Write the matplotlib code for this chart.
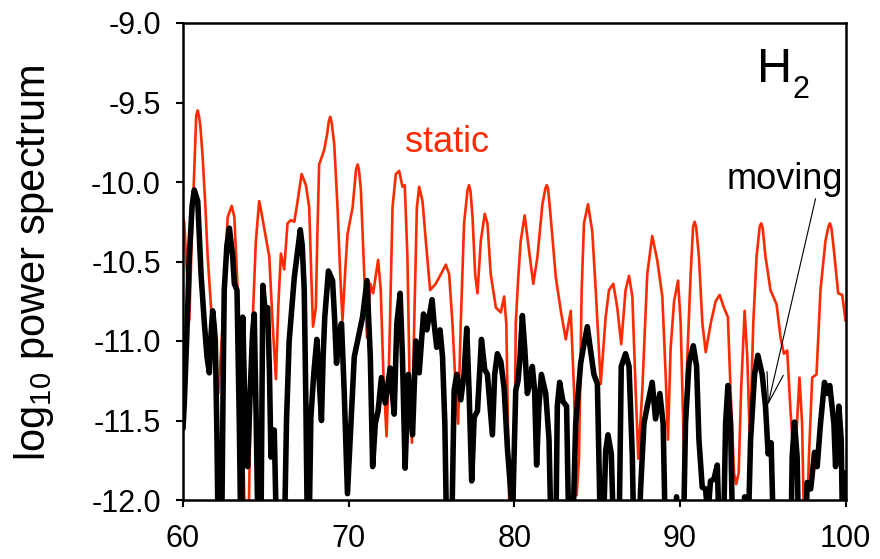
import matplotlib
matplotlib.use("Agg")
import matplotlib.pyplot as plt

plt.rcParams['font.family'] = ['Liberation Sans', 'DejaVu Sans']
plt.rcParams['mathtext.fontset'] = 'custom'
plt.rcParams['mathtext.rm'] = 'Liberation Sans'
plt.rcParams['mathtext.it'] = 'Liberation Sans:italic'

# static (red) spectrum: (frequency, log10 power)
static_pts = [
    (60.00, -10.22), (60.08, -10.26), (60.25, -10.60), (60.38, -10.87), (60.55, -10.30), (60.72, -9.80),
    (60.80, -9.58), (60.89, -9.55), (60.97, -9.59), (61.05, -9.65), (61.19, -9.85), (61.35, -10.15),
    (61.49, -10.47), (61.70, -10.80), (61.89, -11.06), (62.13, -11.33), (62.25, -11.15), (62.39, -10.89),
    (62.55, -10.50), (62.70, -10.22), (62.94, -10.15), (63.10, -10.22), (63.30, -10.68), (63.45, -11.10),
    (63.60, -11.52), (63.75, -12.20), (63.95, -12.20), (64.10, -11.30), (64.20, -10.89), (64.40, -10.37),
    (64.60, -10.12), (64.75, -10.20), (64.90, -10.29), (65.21, -10.47), (65.41, -10.89), (65.61, -11.24),
    (65.75, -10.79), (65.91, -10.45), (66.11, -10.55), (66.31, -10.26), (66.51, -10.24), (66.72, -10.25),
    (66.92, -10.12), (67.16, -9.95), (67.42, -10.02), (67.62, -10.16), (67.75, -10.60), (67.85, -10.91),
    (68.02, -10.79), (68.12, -10.30), (68.22, -9.89), (68.52, -9.80), (68.70, -9.70), (68.80, -9.62),
    (68.89, -9.59), (68.98, -9.63), (69.13, -9.76), (69.33, -10.16), (69.50, -10.60), (69.63, -10.87),
    (69.80, -10.55), (69.93, -10.33), (70.24, -10.16), (70.45, -9.92), (70.54, -9.89), (70.62, -9.92),
    (70.74, -10.05), (70.90, -10.47), (71.11, -10.98), (71.31, -10.64), (71.48, -10.70), (71.78, -10.49),
    (71.94, -10.68), (72.10, -11.21), (72.29, -11.60), (72.45, -11.10), (72.65, -10.16), (72.85, -9.95),
    (73.05, -9.93), (73.25, -10.03), (73.39, -10.02), (73.55, -10.47), (73.69, -11.31), (73.82, -11.64),
    (73.96, -10.89), (74.12, -10.16), (74.26, -10.03), (74.46, -10.12), (74.66, -10.37), (74.92, -10.68),
    (75.26, -10.64), (75.57, -10.58), (75.87, -10.52), (76.07, -10.58), (76.27, -10.89), (76.47, -11.31),
    (76.61, -11.52), (76.77, -10.89), (76.97, -10.26), (77.18, -10.05), (77.27, -10.02), (77.36, -10.06),
    (77.48, -10.22), (77.64, -10.58), (77.78, -10.70), (77.98, -10.37), (78.22, -10.20), (78.38, -10.26),
    (78.58, -10.58), (78.89, -10.79), (79.19, -10.82), (79.39, -10.72), (79.52, -10.89), (79.62, -11.52),
    (79.72, -12.20), (79.98, -12.20), (80.09, -10.89), (80.23, -10.62), (80.39, -10.37), (80.63, -10.21),
    (80.89, -10.43), (81.15, -10.64), (81.40, -10.47), (81.70, -10.14), (81.88, -10.04), (81.96, -10.02),
    (82.04, -10.04), (82.20, -10.22), (82.51, -10.60), (82.81, -10.81), (83.11, -10.99), (83.41, -10.81),
    (83.61, -11.31), (83.77, -11.97), (83.91, -11.73), (84.07, -10.68), (84.21, -10.26), (84.45, -10.14),
    (84.71, -10.31), (84.92, -10.68), (85.22, -11.27), (85.52, -10.85), (85.72, -10.68), (85.98, -10.64),
    (86.22, -10.79), (86.46, -11.02), (86.72, -10.68), (86.93, -10.59), (87.13, -10.72), (87.33, -11.31),
    (87.49, -11.74), (87.73, -11.31), (88.03, -10.58), (88.33, -10.34), (88.63, -10.49), (88.94, -10.72),
    (89.14, -11.21), (89.28, -11.62), (89.44, -11.05), (89.65, -10.75), (89.89, -10.62), (90.05, -10.89),
    (90.25, -11.73), (90.45, -11.10), (90.65, -10.58), (90.80, -10.28), (90.89, -10.25), (90.98, -10.28),
    (91.15, -10.47), (91.36, -10.89), (91.56, -11.07), (91.86, -10.89), (92.16, -10.75), (92.40, -10.71),
    (92.66, -10.79), (92.90, -10.85), (93.06, -11.31), (93.27, -11.83), (93.40, -11.90), (93.55, -11.83),
    (93.70, -11.30), (93.91, -10.81), (94.07, -11.10), (94.23, -11.64), (94.43, -10.89), (94.63, -10.47),
    (94.82, -10.28), (94.91, -10.26), (95.00, -10.29), (95.17, -10.47), (95.47, -10.68), (95.84, -10.77),
    (96.08, -10.98), (96.28, -11.08), (96.48, -11.06), (96.68, -11.44), (96.92, -11.81), (97.22, -11.23),
    (97.38, -11.52), (97.50, -12.20), (97.65, -12.20), (97.79, -11.73), (97.99, -11.23), (98.25, -11.21),
    (98.49, -10.68), (98.79, -10.37), (98.97, -10.28), (99.06, -10.26), (99.15, -10.29), (99.30, -10.43),
    (99.56, -10.70), (99.80, -10.71), (100.0, -10.87),
]

# moving (black) spectrum: (frequency, log10 power)
moving_pts = [
    (60.00, -11.55), (60.08, -11.39), (60.25, -10.90), (60.38, -10.47), (60.55, -10.15), (60.68, -10.05),
    (60.89, -10.12), (61.09, -10.58), (61.29, -10.89), (61.45, -11.10), (61.59, -11.20), (61.70, -10.95),
    (61.79, -10.81), (61.88, -10.90), (61.95, -11.00), (62.05, -11.60), (62.13, -12.30), (62.33, -12.30),
    (62.42, -11.30), (62.49, -10.68), (62.65, -10.40), (62.80, -10.29), (62.92, -10.40), (63.00, -10.47),
    (63.10, -10.64), (63.26, -10.68), (63.40, -11.52), (63.50, -12.30), (63.55, -12.30), (63.61, -10.85),
    (63.69, -11.20), (63.76, -11.52), (63.90, -11.79), (64.06, -11.31), (64.20, -10.95), (64.30, -10.83),
    (64.42, -11.50), (64.54, -12.30), (64.70, -12.30), (64.82, -10.65), (64.94, -10.79), (65.11, -10.79),
    (65.22, -11.20), (65.31, -11.73), (65.42, -11.56), (65.51, -11.56), (65.60, -12.00), (65.67, -12.30),
    (66.11, -12.30), (66.25, -11.50), (66.41, -11.00), (66.72, -10.60), (67.08, -10.30), (67.20, -10.40),
    (67.32, -10.68), (67.42, -11.40), (67.52, -12.30), (67.60, -12.30), (67.72, -11.48), (67.90, -11.20),
    (68.08, -10.99), (68.20, -11.20), (68.36, -11.50), (68.46, -11.10), (68.56, -10.85), (68.78, -10.56),
    (69.03, -10.62), (69.15, -10.85), (69.27, -11.14), (69.42, -10.95), (69.57, -10.89), (69.73, -11.31),
    (69.93, -11.96), (70.14, -11.52), (70.34, -11.10), (70.54, -11.00), (70.84, -10.85), (71.11, -10.62),
    (71.31, -11.10), (71.45, -11.79), (71.61, -11.52), (71.78, -11.44), (71.98, -11.23), (72.21, -11.39),
    (72.51, -11.17), (72.75, -11.46), (72.91, -10.89), (73.11, -10.70), (73.25, -11.10), (73.41, -11.80),
    (73.61, -11.21), (73.86, -11.59), (74.06, -11.00), (74.26, -11.20), (74.52, -10.83), (74.72, -10.93),
    (74.86, -10.85), (75.04, -10.74), (75.16, -10.89), (75.32, -11.04), (75.52, -10.93), (75.67, -11.10),
    (75.81, -11.52), (75.93, -12.30), (76.21, -12.30), (76.37, -11.31), (76.53, -11.21), (76.77, -11.37),
    (76.97, -11.21), (77.13, -10.92), (77.27, -11.31), (77.43, -11.88), (77.58, -11.48), (77.78, -11.44),
    (78.02, -10.99), (78.22, -11.18), (78.38, -11.21), (78.54, -11.41), (78.68, -11.59), (78.82, -11.21),
    (78.98, -11.08), (79.19, -11.13), (79.39, -11.30), (79.59, -11.68), (79.75, -11.90), (79.90, -12.10),
    (80.09, -11.31), (80.23, -11.25), (80.35, -11.10), (80.49, -10.84), (80.63, -11.04), (80.79, -11.33),
    (80.93, -11.27), (81.09, -11.16), (81.23, -11.31), (81.35, -11.78), (81.49, -11.41), (81.64, -11.21),
    (81.90, -11.33), (82.10, -11.62), (82.24, -12.30), (82.50, -12.30), (82.60, -11.41), (82.74, -11.26),
    (82.94, -11.38), (83.16, -11.41), (83.31, -12.30), (83.51, -12.30), (83.71, -11.52), (84.01, -11.14),
    (84.21, -11.02), (84.41, -10.91), (84.61, -11.06), (84.81, -11.21), (85.02, -11.27), (85.22, -12.30),
    (85.35, -12.30), (85.52, -11.69), (85.66, -11.59), (85.86, -11.71), (86.02, -12.30), (86.32, -12.30),
    (86.46, -11.16), (86.72, -11.08), (86.93, -11.16), (87.13, -11.73), (87.23, -12.30), (87.50, -12.30),
    (87.63, -11.93), (87.83, -11.52), (88.03, -11.41), (88.33, -11.26), (88.53, -11.49), (88.79, -11.33),
    (88.99, -11.52), (89.14, -12.30), (89.60, -12.30), (89.80, -11.98), (90.00, -12.30), (90.20, -12.30),
    (90.34, -11.52), (90.55, -11.14), (90.81, -11.03), (91.01, -11.16), (91.15, -11.62), (91.35, -11.92),
    (91.55, -11.93), (91.69, -12.10), (91.85, -11.88), (92.05, -11.87), (92.26, -11.78), (92.40, -12.30),
    (92.62, -12.30), (92.76, -11.52), (92.90, -11.28), (93.06, -11.52), (93.20, -12.30), (93.80, -12.30),
    (93.91, -11.98), (94.10, -12.30), (94.27, -11.62), (94.51, -11.21), (94.71, -11.09), (94.97, -11.21),
    (95.17, -11.41), (95.33, -11.71), (95.51, -11.64), (95.67, -12.30), (96.70, -12.30), (96.78, -11.73),
    (96.92, -11.51), (97.08, -11.73), (97.18, -12.30), (97.60, -12.30), (97.68, -11.89), (97.90, -11.93),
    (98.13, -11.70), (98.29, -11.79), (98.49, -11.52), (98.73, -11.26), (98.89, -11.33), (99.05, -11.28),
    (99.30, -11.52), (99.40, -11.79), (99.60, -11.41), (99.74, -11.62), (99.84, -12.30), (100.0, -11.83),
]

x_ticks = [60, 70, 80, 90, 100]
y_ticks = [-12.0, -11.5, -11.0, -10.5, -10.0, -9.5, -9.0]

fig = plt.figure(figsize=(8.8, 5.59), dpi=100)
ax = fig.add_axes([183/880, 1 - 500/559, (845.5 - 183)/880, (500 - 23)/559])

sx, sy = zip(*static_pts)
mx, my = zip(*moving_pts)
ax.plot(sx, sy, color='#ff2a00', lw=1.9, solid_joinstyle='round', zorder=2)
ax.plot(mx, my, color='black', lw=4.0, solid_joinstyle='round', solid_capstyle='round', zorder=3)

ax.set_xlim(60, 100)
ax.set_ylim(-12, -9)
ax.set_xticks(x_ticks)
ax.set_xticklabels([str(v) for v in x_ticks])
ax.set_yticks(y_ticks)
ax.set_yticklabels([f"{v:.1f}" for v in y_ticks])
ax.tick_params(axis='both', direction='out', length=5, width=1.5, labelsize=22)
ax.tick_params(axis='x', pad=12)
ax.tick_params(axis='y', pad=11)
for s in ax.spines.values():
    s.set_linewidth(1.8)

fig.text(34/880, 1 - 263/559, r'log$_{10}$ power spectrum', rotation=90,
         ha='center', va='center', fontsize=30)

ax.text(75.91, -9.81, 'static', color='#ff2a00', fontsize=26, ha='center', va='baseline')
ax.text(96.32, -10.044, 'moving', color='black', fontsize=26, ha='center', va='baseline')
ax.annotate('', xy=(95.31, -11.404), xytext=(98.19, -10.105),
            arrowprops=dict(arrowstyle='->,head_length=2.2,head_width=0.6', lw=0.8, color='black',
                            shrinkA=0, shrinkB=0, mutation_scale=10))

ax.text(757, 559 - 81.7, 'H', fontsize=35, ha='left', va='baseline', transform=None)
ax.text(792, 559 - 98, '2', fontsize=22, ha='left', va='baseline', transform=None)

fig.savefig('out.png', dpi=100)
